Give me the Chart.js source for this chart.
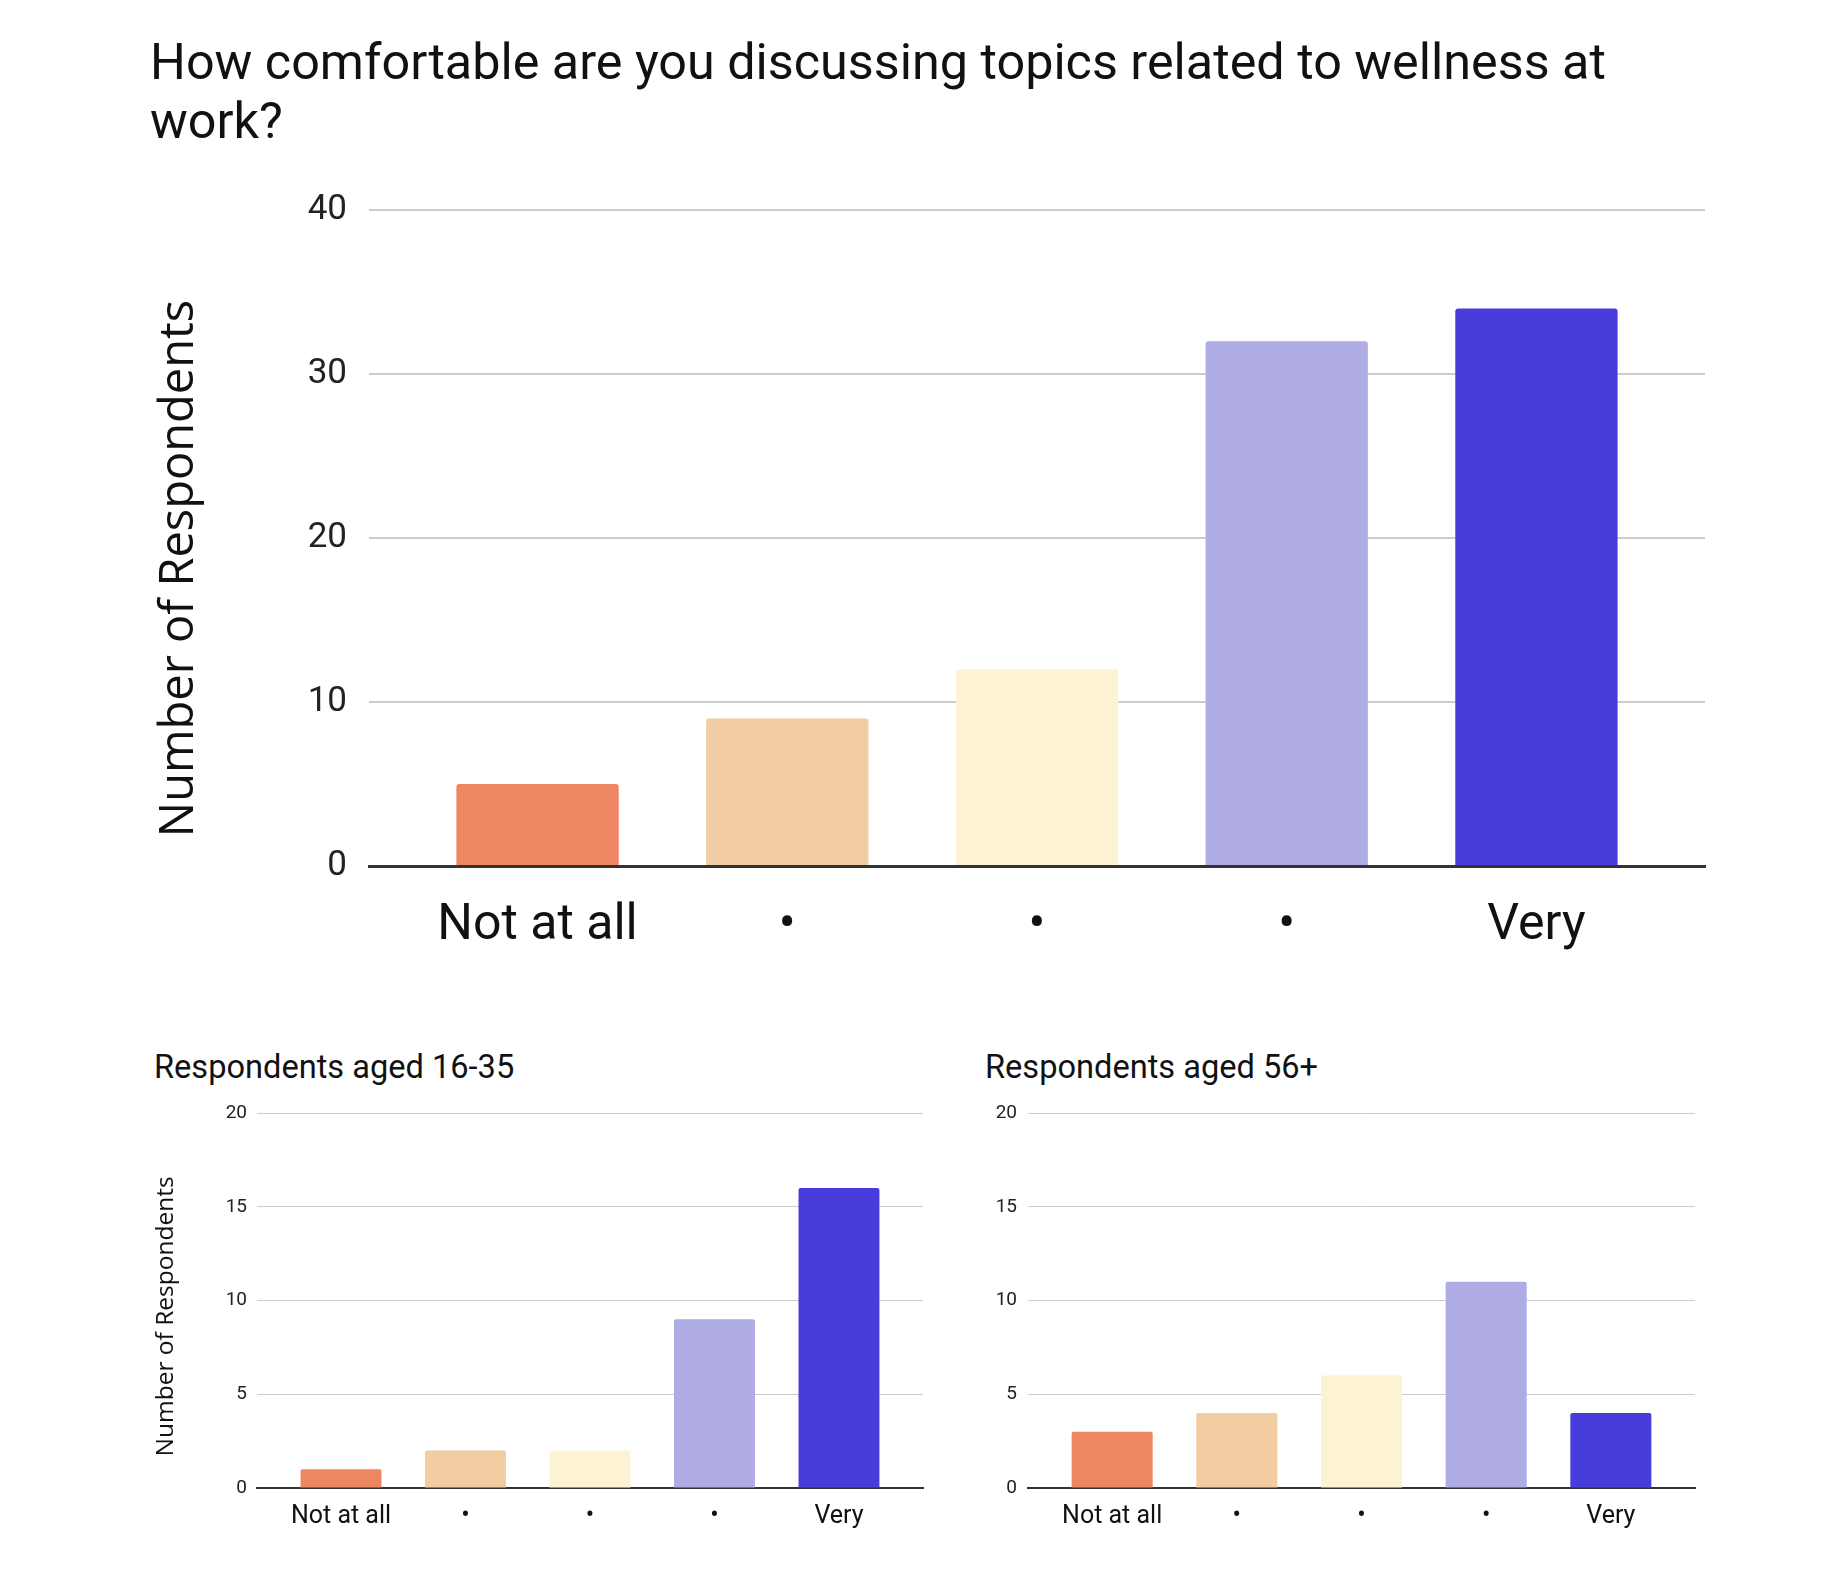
<!DOCTYPE html>
<html><head><meta charset="utf-8">
<script src="https://cdn.jsdelivr.net/npm/chart.js@4.4.1/dist/chart.umd.min.js"></script>
<style>
html,body{margin:0;padding:0;background:#fff;width:1830px;height:1572px;overflow:hidden;position:relative}
canvas{position:absolute}
.t{position:absolute;font-family:Roboto;color:#111;white-space:nowrap}
</style></head><body>
<div class="t" style="left:150px;top:32px;font-size:50.3px;line-height:59px">How comfortable are you discussing topics related to wellness at<br>work?</div>
<div class="t" style="left:154px;top:1051px;font-size:32.6px;line-height:32px">Respondents aged 16-35</div>
<div class="t" style="left:985px;top:1051px;font-size:32.6px;line-height:32px">Respondents aged 56+</div>
<canvas id="c0" style="left:0;top:160px;width:1830px;height:830px"></canvas>
<canvas id="c1" style="left:0;top:1090px;width:960px;height:482px"></canvas>
<canvas id="c2" style="left:960px;top:1090px;width:870px;height:482px"></canvas>
<script>
const categories = ['Not at all', '•', '•', '•', 'Very'];
const allRespondents = [5, 9, 12, 32, 34];
const aged16to35 = [1, 2, 2, 9, 16];
const aged56plus = [3, 4, 6, 11, 4];
const barColors = ['#EF8662', '#F2CCA2', '#FDF2D3', '#AFACE5', '#483CDB'];
const yTitleText = 'Number of Respondents';
const sideMargin = 0.175; // extra space (in category widths) between gridline ends and the outer bars

Chart.defaults.font.family = 'Roboto';
Chart.defaults.color = '#222';

function makeChart(id, values, o) {
  const canvas = document.getElementById(id);
  return new Chart(canvas, {
    type: 'bar',
    data: {
      datasets: [{
        data: values.map((v, i) => ({ x: i, y: v })),
        backgroundColor: barColors,
        borderRadius: o.radius,
        borderSkipped: 'start',
        categoryPercentage: 1,
        barPercentage: 0.65
      }]
    },
    options: {
      responsive: false,
      animation: false,
      layout: { padding: o.padding },
      plugins: { legend: { display: false }, tooltip: { enabled: false }, title: { display: false } },
      scales: {
        x: {
          type: 'linear',
          offset: false,
          bounds: 'data',
          z: 1,
          min: -0.5 - sideMargin,
          max: categories.length - 0.5 + sideMargin,
          afterFit: s => { s.height = o.xHeight; },
          afterBuildTicks: s => { s.ticks = categories.map((_, i) => ({ value: i })); },
          grid: { display: false, drawTicks: false, offset: false },
          border: { display: true, color: '#333', width: o.axisWidth },
          ticks: {
            font: { size: o.labelSize }, color: '#111', padding: o.labelPad,
            maxRotation: 0, autoSkip: false,
            callback: v => categories[v]
          }
        },
        y: {
          min: 0, max: o.yMax,
          afterFit: s => { s.width = o.yWidth; },
          grid: { color: c => c.tick && c.tick.value === 0 ? 'rgba(0,0,0,0)' : '#cccccc', lineWidth: o.gridWidth, drawTicks: false },
          border: { display: false },
          ticks: { stepSize: o.step, font: { size: o.tickSize }, color: '#222', padding: o.tickPad },
          title: o.yTitle ? {
            display: true, text: yTitleText + '     ', color: '#111',
            font: { family: 'Open Sans', size: o.yTitleSize },
            padding: { top: o.yTitlePad, bottom: 0 }
          } : { display: false }
        }
      }
    }
  });
}

makeChart('c0', allRespondents, {
  padding: { left: 130, right: 125, top: 50, bottom: 0 },
  yWidth: 239, xHeight: 124, yMax: 40, step: 10,
  tickSize: 35, tickPad: 22, labelSize: 50, labelPad: 30,
  gridWidth: 2, axisWidth: 3, radius: 3,
  yTitle: true, yTitleSize: 47, yTitlePad: 21
});
makeChart('c1', aged16to35, {
  padding: { left: 130, right: 37, top: 23, bottom: 0 },
  yWidth: 127, xHeight: 84, yMax: 20, step: 5,
  tickSize: 19, tickPad: 10, labelSize: 25, labelPad: 14,
  gridWidth: 1, axisWidth: 2, radius: 2,
  yTitle: true, yTitleSize: 24.5, yTitlePad: 21
});
makeChart('c2', aged56plus, {
  padding: { left: 0, right: 135, top: 23, bottom: 0 },
  yWidth: 68, xHeight: 84, yMax: 20, step: 5,
  tickSize: 19, tickPad: 11, labelSize: 25, labelPad: 14,
  gridWidth: 1, axisWidth: 2, radius: 2,
  yTitle: false
});
</script>
</body></html>
